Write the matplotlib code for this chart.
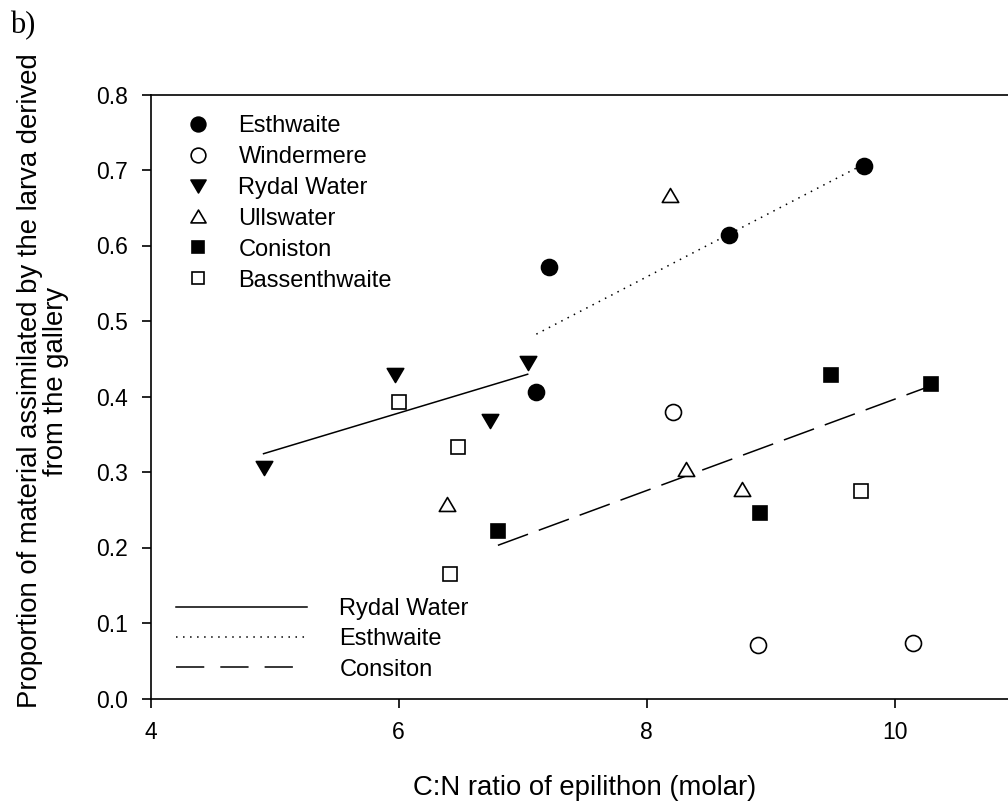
import numpy as np
import matplotlib.pyplot as plt
from matplotlib.lines import Line2D
from matplotlib.path import Path

# ---------------------------------------------------------
# data: C:N ratio (x) vs proportion assimilated (y)
# ---------------------------------------------------------

esthwaite_x = [7.11, 7.21, 8.66, 9.75]
esthwaite_y = [0.406, 0.571, 0.614, 0.705]

windermere_x = [8.21, 8.90, 10.15]
windermere_y = [0.380, 0.071, 0.074]

rydal_x = [4.91, 5.97, 6.74, 7.04]
rydal_y = [0.305, 0.428, 0.368, 0.444]

ullswater_x = [6.39, 8.19, 8.32, 8.77]
ullswater_y = [0.258, 0.667, 0.304, 0.277]

coniston_x = [6.80, 8.91, 9.49, 10.29]
coniston_y = [0.222, 0.246, 0.428, 0.417]

bassenthwaite_x = [6.00, 6.48, 6.41, 9.73]
bassenthwaite_y = [0.393, 0.333, 0.165, 0.275]

x_ticks = [4, 6, 8, 10]
y_ticks = [0.0, 0.1, 0.2, 0.3, 0.4, 0.5, 0.6, 0.7, 0.8]

plt.rcParams['font.family'] = ['Liberation Sans', 'DejaVu Sans']
TICK_FS = 16.5
LEG_FS = 17
TITLE_FS = 19.8

W, H = 1008, 801
fig = plt.figure(figsize=(W / 100, H / 100), dpi=100)

# axes box in pixels (x runs 4..11, right edge falls just off the page)
left, right, top, bottom = 150.7, 1018.7, 94.5, 698.5
ax = fig.add_axes([left / W, 1 - bottom / H, (right - left) / W, (bottom - top) / H])

# slightly squat triangles, like SigmaPlot symbols
codes = [Path.MOVETO, Path.LINETO, Path.LINETO, Path.CLOSEPOLY]
tri_down = Path([(-1, 0.85), (1, 0.85), (0, -0.85), (-1, 0.85)], codes)
tri_up = Path([(-1, -0.85), (1, -0.85), (0, 0.85), (-1, -0.85)], codes)

# ---------------------------------------------------------
# scatter points
# ---------------------------------------------------------

mew = 1.2
series = [
    ("Esthwaite", esthwaite_x, esthwaite_y, 'o', 'black', 11.5),
    ("Windermere", windermere_x, windermere_y, 'o', 'white', 11.5),
    ("Rydal Water", rydal_x, rydal_y, tri_down, 'black', 11.8),
    ("Ullswater", ullswater_x, ullswater_y, tri_up, 'white', 11.8),
    ("Coniston", coniston_x, coniston_y, 's', 'black', 9.8),
    ("Bassenthwaite", bassenthwaite_x, bassenthwaite_y, 's', 'white', 9.6),
]

marker_handles = []
for name, xs, ys, mk, fc, size in series:
    ax.plot(xs, ys, linestyle='none', marker=mk, markersize=size,
            markerfacecolor=fc, markeredgecolor='black', markeredgewidth=mew,
            zorder=3)
    marker_handles.append(
        Line2D([], [], linestyle='none', marker=mk, markersize=size * 0.92,
               markerfacecolor=fc, markeredgecolor='black', markeredgewidth=mew,
               label=name)
    )

# ---------------------------------------------------------
# regression lines
# ---------------------------------------------------------

def fit_line(xs, ys):
    k, b = np.polyfit(xs, ys, 1)
    xx = np.array([min(xs), max(xs)])
    return xx, k * xx + b

LW = 1.1
fits = [
    ("Rydal Water", rydal_x, rydal_y, '-'),
    ("Esthwaite", esthwaite_x, esthwaite_y, (0, (1.0, 3.6))),
    ("Consiton", coniston_x, coniston_y, (0, (21, 7.5))),
]

line_handles = []
for name, xs, ys, ls in fits:
    xx, yy = fit_line(xs, ys)
    ax.plot(xx, yy, color='black', linestyle=ls, linewidth=LW, zorder=2)
    legend_ls = ls
    if name == "Consiton":
        # three whole dashes across the legend sample
        legend_ls = (0, (18.5, 10.5))
    line_handles.append(Line2D([], [], color='black', linestyle=legend_ls,
                               linewidth=LW, label=name))

# ---------------------------------------------------------
# axes styling
# ---------------------------------------------------------

ax.set_xlim(4, 11)
ax.set_ylim(0, 0.8)
ax.set_xticks(x_ticks)
ax.set_yticks(y_ticks)
ax.set_xticklabels([str(t) for t in x_ticks])
ax.set_yticklabels([f"{t:.1f}" for t in y_ticks])
ax.tick_params(direction='out', length=6.5, width=1.2, labelsize=TICK_FS,
               pad=9.6, top=False, right=False)
for sp in ax.spines.values():
    sp.set_linewidth(1.2)

fig.text((left + right) / 2 / W, 1 - 788 / H, "C:N ratio of epilithon (molar)",
         ha='center', va='center', fontsize=TITLE_FS)
fig.text(43 / W, 1 - 381 / H,
         "Proportion of material assimilated by the larva derived\nfrom the gallery",
         ha='center', va='center', rotation=90, multialignment='center',
         fontsize=TITLE_FS, linespacing=1.0)

fig.text(10 / W, 1 - 26 / H, "b)", ha='left', va='center',
         fontsize=22, family=['Liberation Serif', 'DejaVu Serif'])

# ---------------------------------------------------------
# legends
# ---------------------------------------------------------

leg1 = ax.legend(handles=marker_handles, loc='upper left',
                 bbox_to_anchor=(186 / W, 1 - 115 / H),
                 bbox_transform=fig.transFigure, frameon=False,
                 fontsize=LEG_FS, handlelength=1.0, handletextpad=1.22,
                 labelspacing=0.377, borderpad=0, borderaxespad=0)
ax.add_artist(leg1)

ax.legend(handles=line_handles, loc='upper left',
          bbox_to_anchor=(176 / W, 1 - 598 / H),
          bbox_transform=fig.transFigure, frameon=False,
          fontsize=LEG_FS, handlelength=5.54, handletextpad=1.38,
          labelspacing=0.35, borderpad=0, borderaxespad=0)

plt.savefig("out.png", dpi=100)
plt.close()
